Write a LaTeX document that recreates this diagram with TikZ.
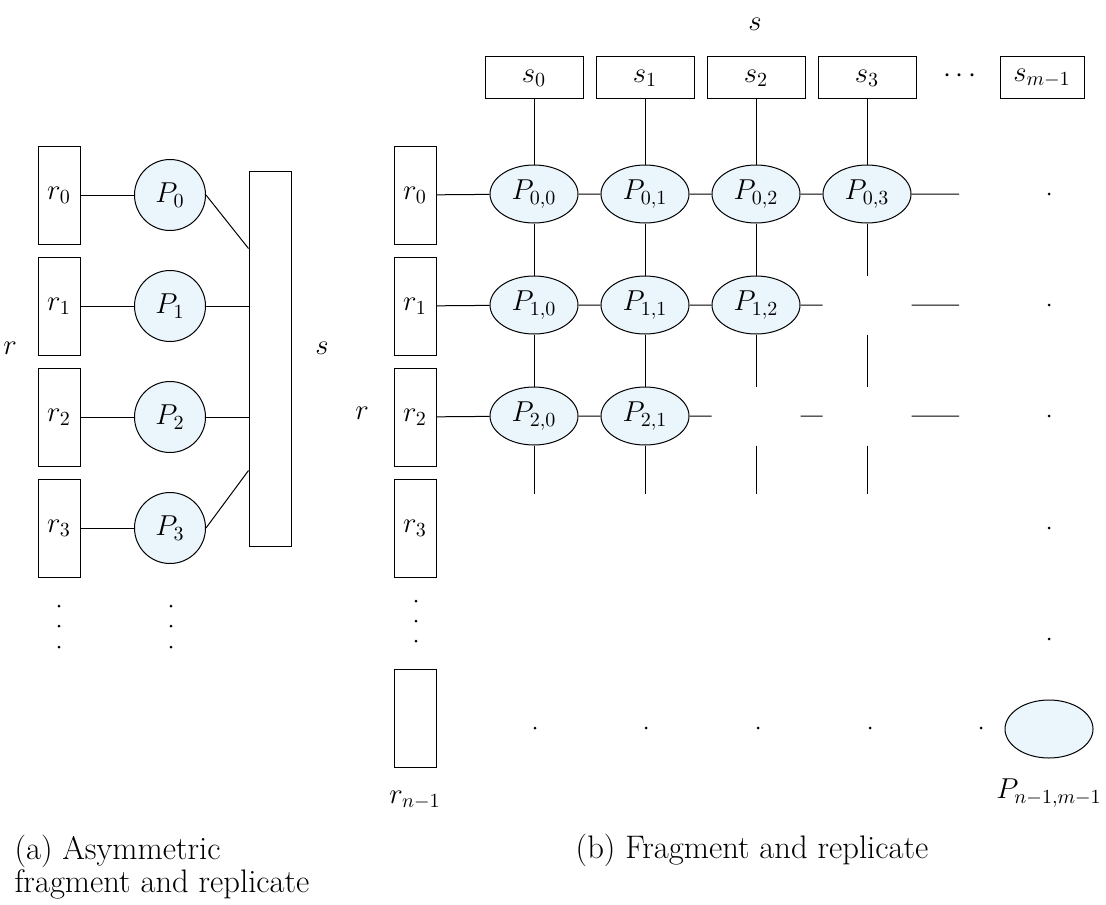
\documentclass[tikz,border=0pt]{standalone}
\usepackage{xcolor}
\usepackage{tikz}
\usetikzlibrary{positioning,shapes.geometric}
\definecolor{procfill}{HTML}{EBF5FC}

\begin{document}
\begin{tikzpicture}[x=0.5pt, y=-0.5pt, node distance=55.5pt, line width=0.5pt,
  font=\fontsize{14.5}{17}\selectfont,
  rbox/.style={rectangle, draw, minimum width=21pt, minimum height=49pt, inner sep=0pt},
  sbox/.style={rectangle, draw, minimum width=49pt, minimum height=21pt, inner sep=0pt},
  proc/.style={circle, draw, fill=procfill, minimum size=35.5pt, inner sep=0pt},
  cell/.style={ellipse, draw, fill=procfill, minimum width=44pt, minimum height=29pt, inner sep=0pt},
  gap/.style={ellipse, minimum width=44pt, minimum height=29pt, inner sep=0pt},
  dot/.style={circle, fill, inner sep=0pt, minimum size=1.5pt},
  caption/.style={font=\fontsize{16.3}{15.2}\selectfont, inner sep=0pt}]
  \useasboundingbox (0,0) rectangle (1106,904);

  % (a) asymmetric fragment and replicate
  \node (ra0) [rbox] at (59,195) {$r_0$};
  \node (ra1) [rbox, below of=ra0] {$r_1$};
  \node (ra2) [rbox, below of=ra1] {$r_2$};
  \node (ra3) [rbox, below of=ra2] {$r_3$};
  \node (pa0) [proc, right of=ra0] {$P_0$};
  \node (pa1) [proc, right of=ra1] {$P_1$};
  \node (pa2) [proc, right of=ra2] {$P_2$};
  \node (pa3) [proc, right of=ra3] {$P_3$};
  \node (sa) [rbox, minimum height=187.5pt] at (270,358.5) {};
  \node (rtaga) at (10,348) {$r$};
  \node (staga) at (322,348) {$s$};
  \node (ra4) [dot] at (59,606) {};
  \node (ra5) [dot] at (59,626) {};
  \node (ra6) [dot] at (59,647) {};
  \node (pa4) [dot] at (171,606) {};
  \node (pa5) [dot] at (171,626) {};
  \node (pa6) [dot] at (171,647) {};
  \draw (ra0) -- (pa0);
  \draw (ra1) -- (pa1);
  \draw (ra2) -- (pa2);
  \draw (ra3) -- (pa3);
  \draw (pa0.east) -- ([yshift=-39pt]sa.north west);
  \draw (pa1) -- (pa1 -| sa.west);
  \draw (pa2) -- (pa2 -| sa.west);
  \draw (pa3.east) -- ([yshift=38pt]sa.south west);

  % (b) fragment and replicate
  \node (rb0) [rbox] at (415,195) {$r_0$};
  \node (rb1) [rbox, below of=rb0] {$r_1$};
  \node (rb2) [rbox, below of=rb1] {$r_2$};
  \node (rb3) [rbox, below of=rb2] {$r_3$};
  \node (rbn) [rbox] at (415,718) {};
  \node (rbnl) [below of=rbn, node distance=41pt] {$r_{n-1}$};
  \node (rb4) [dot] at (416,601) {};
  \node (rb5) [dot] at (416,621) {};
  \node (rb6) [dot] at (416,641) {};
  \node (rtagb) at (362,413) {$r$};

  \node (p00) [cell] at (534,194) {$P_{0,0}$};
  \node (p01) [cell, right of=p00] {$P_{0,1}$};
  \node (p02) [cell, right of=p01] {$P_{0,2}$};
  \node (p03) [cell, right of=p02] {$P_{0,3}$};
  \node (p10) [cell, below of=p00] {$P_{1,0}$};
  \node (p11) [cell, right of=p10] {$P_{1,1}$};
  \node (p12) [cell, right of=p11] {$P_{1,2}$};
  \node (p13) [gap, right of=p12] {};
  \node (p20) [cell, below of=p10] {$P_{2,0}$};
  \node (p21) [cell, right of=p20] {$P_{2,1}$};
  \node (p22) [gap, right of=p21] {};
  \node (p23) [gap, right of=p22] {};

  \node (s0) [sbox, above of=p00, node distance=58pt] {$s_0$};
  \node (s1) [sbox, right of=s0] {$s_1$};
  \node (s2) [sbox, right of=s1] {$s_2$};
  \node (s3) [sbox, right of=s2] {$s_3$};
  \node (sdots) at (960,76) {$\cdots$};
  \node (sm) [sbox, minimum width=42pt] at (1042,78) {$s_{m-1}$};
  \node (stagb) at (755,24) {$s$};

  \coordinate (e0) at (959,194);
  \coordinate (e1) at (959,305);
  \coordinate (e2) at (959,416);
  \coordinate (d0) at (534,494);
  \coordinate (d1) at (645,494);
  \coordinate (d2) at (756,494);
  \coordinate (d3) at (867,494);

  \draw (rb0) -- (p00) -- (p01) -- (p02) -- (p03) -- (e0);
  \draw (rb1) -- (p10) -- (p11) -- (p12) -- (p13) -- (e1);
  \draw (rb2) -- (p20) -- (p21) -- (p22) -- (p23) -- (e2);
  \draw (s0) -- (p00) -- (p10) -- (p20) -- (d0);
  \draw (s1) -- (p01) -- (p11) -- (p21) -- (d1);
  \draw (s2) -- (p02) -- (p12) -- (p22) -- (d2);
  \draw (s3) -- (p03) -- (p13) -- (p23) -- (d3);

  % dots towards the last processor
  \node (c0) [dot] at (1049,194) {};
  \node (c1) [dot] at (1049,305) {};
  \node (c2) [dot] at (1049,416) {};
  \node (c3) [dot] at (1049,528) {};
  \node (c4) [dot] at (1049,639) {};
  \node (b0) [dot] at (535,728) {};
  \node (b1) [dot] at (646,728) {};
  \node (b2) [dot] at (758,728) {};
  \node (b3) [dot] at (870,728) {};
  \node (b4) [dot] at (981,728) {};
  \node (pnm) [cell] at (1049,729) {};
  \node (pnml) [below of=pnm, node distance=32pt] {$P_{n-1,m-1}$};

  % captions
  \node (capa) [caption, align=left, anchor=north west] at (14,835) {(a) Asymmetric\\fragment and replicate};
  \node (capb) [caption, anchor=base] at (752,858) {(b) Fragment and replicate};
\end{tikzpicture}
\end{document}
